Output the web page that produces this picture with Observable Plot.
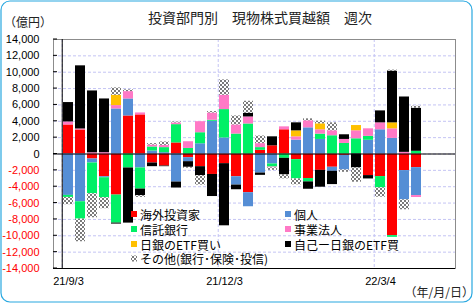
<!DOCTYPE html>
<html><head><meta charset="utf-8">
<script src="https://cdn.jsdelivr.net/npm/d3@7"></script>
<script src="https://cdn.jsdelivr.net/npm/@observablehq/plot@0.6"></script>
<style>
body{margin:0;background:#fff;}
#wrap{position:relative;width:473px;height:303px;}
#wrap svg{position:absolute;left:0;top:0;}
</style></head><body>
<svg width="0" height="0" style="position:absolute"><defs>
<pattern id="checker" width="4" height="4" patternUnits="userSpaceOnUse">
<rect width="4" height="4" fill="#ffffff"/>
<rect width="2" height="2" fill="#7a7a7a"/>
<rect x="2" y="2" width="2" height="2" fill="#7a7a7a"/>
</pattern></defs></svg>
<div id="wrap"></div>
<script>
// Weekly categories
const dates = ["21/9/3","21/9/10","21/9/17","21/9/24","21/10/1","21/10/8","21/10/15","21/10/22","21/10/29","21/11/5",
  "21/11/12","21/11/19","21/11/26","21/12/3","21/12/10","21/12/17","21/12/24","21/12/31","22/1/7","22/1/14",
  "22/1/21","22/1/28","22/2/4","22/2/11","22/2/18","22/2/25","22/3/4","22/3/11","22/3/18","22/3/25"];
const emptyDates = ["22/4/1","22/4/8"];
const labelDates = ["21/9/3","21/12/3","22/3/4"];
const yTicks = [-14000,-12000,-10000,-8000,-6000,-4000,-2000,0,2000,4000,6000,8000,10000,12000,14000];

const seriesNames = ["海外投資家","個人","信託銀行","事業法人","日銀のETF買い","自己ー日銀のETF買","その他(銀行･保険･投信)"];
const seriesColors = ["#ff0000","#558ed5","#00f066","#ff79c6","#ffc000","#000000","url(#checker)"];

// values (億円)
const foreign  = [3550,2940,-610,-2780,-5020,4650,4780,-1100,-1470,1350,-450,-1550,-2500,-1180,-2780,-4730,450,1000,2960,-690,-3000,-2000,-1620,-170,0,-2640,-2760,-9980,-2030,-1670];
const individual=[-5060,-5840,-490,-120,5510,2080,-1710,370,160,-3430,-490,1250,4000,1960,-1020,-1720,-2330,-1220,0,1700,3200,1780,-490,-1780,0,1680,2960,1910,-3570,-3410];
const trustBank= [-250,-2120,-3760,-2450,-3430,-1710,-2580,490,620,2240,680,1350,130,3470,2440,3670,330,-380,-530,-2350,-410,650,2230,1290,1860,480,-1380,-210,0,330];
const corporate= [370,120,150,160,410,900,240,240,280,210,820,1350,880,1750,1110,860,490,-100,360,400,860,530,610,490,980,920,850,1170,200,-240];
const bojEtf   = [0,0,0,0,1260,0,0,0,0,0,0,0,0,0,0,0,0,0,0,730,0,730,0,0,640,0,0,730,0,0];
const proprietary=[2370,7720,7560,6570,-120,-6740,-810,-450,-80,-730,-690,-1100,-2700,-7600,-570,450,-280,1100,-2030,980,-900,-2060,-1630,570,-1700,-410,1460,6330,6770,5270];
const others   = [-890,-2770,-2940,-1340,900,210,-210,170,410,120,-110,-1150,180,1880,1100,1470,930,-300,-480,-730,240,330,970,-290,-1750,0,-1140,120,-1220,240];

const seriesValues = [foreign, individual, trustBank, corporate, bojEtf, proprietary, others];
const rows = [];
dates.forEach((d, i) => {
  seriesNames.forEach((s, j) => rows.push({date: d, series: s, value: seriesValues[j][i]}));
});
const allDates = dates.concat(emptyDates);

const W = 473, H = 303, mL = 53, mR = 18, mT = 39, mB = 35;
const step = (W - mL - mR) / allDates.length;
const numFont = "'Liberation Sans', Arial, sans-serif";
const jpFont = "'Noto Sans CJK JP', sans-serif";
const fmt = d3.format(",");

const chart = Plot.plot({
  width: W, height: H,
  marginLeft: mL, marginRight: mR, marginTop: mT, marginBottom: mB,
  style: {background: "transparent", fontFamily: numFont, overflow: "visible"},
  x: {type: "band", domain: allDates, paddingInner: 0.15, paddingOuter: 0.075, axis: null},
  y: {domain: [-14000, 14000], axis: null},
  color: {domain: seriesNames, range: seriesColors},
  marks: [
    Plot.ruleY(yTicks, {y: d => d, stroke: "#c4c4f4", strokeDasharray: "3,2"}),
    Plot.ruleX(labelDates, {x: d => d, dx: -step / 2, stroke: "#c4c4f4", strokeDasharray: "3,2"}),
    Plot.frame({stroke: "#8c8c8c"}),
    Plot.barY(rows, {x: "date", y: "value", fill: "series"}),
    Plot.ruleY([0], {stroke: "#000"}),
    Plot.ruleY([-14000], {stroke: "#000"}),
    Plot.ruleX([allDates[0]], {x: d => d, dx: -step / 2, stroke: "#000"}),
    Plot.text(yTicks.filter(d => d >= 0), {y: d => d, frameAnchor: "left", dx: -14, textAnchor: "end", text: d => fmt(d), fill: "#000", fontSize: 11}),
    Plot.text(yTicks.filter(d => d < 0), {y: d => d, frameAnchor: "left", dx: -14, textAnchor: "end", text: d => "-" + fmt(-d), fill: "#ff0000", fontSize: 11}),
    Plot.text(labelDates, {x: d => d, frameAnchor: "bottom", dy: 16, text: d => d, fill: "#000", fontSize: 11})
  ]
});

const svg = d3.select(chart);
const ys = chart.scale("y");
// inward tick marks on the y axis
yTicks.forEach(t => {
  const y = ys.apply(t);
  svg.append("line").attr("x1", mL).attr("x2", mL + 4).attr("y1", y).attr("y2", y).attr("stroke", "#000");
});

// title & unit labels
svg.append("text").attr("x", 260).attr("y", 17).attr("text-anchor", "middle").attr("dominant-baseline", "central")
  .attr("font-family", jpFont).attr("font-size", 14).attr("fill", "#222").text("投資部門別　現物株式買越額　週次");
svg.append("text").attr("x", 4).attr("y", 21).attr("text-anchor", "start").attr("dominant-baseline", "central")
  .attr("font-family", jpFont).attr("font-size", 12).attr("fill", "#222").text("（億円）");
svg.append("text").attr("x", 474).attr("y", 291).attr("text-anchor", "end").attr("dominant-baseline", "central")
  .attr("font-family", jpFont).attr("font-size", 12).attr("fill", "#222").text("（年/月/日）");

// legend (two columns, row-major order as in the source)
const legendPos = [[131,214],[285,214],[131,229],[285,229],[131,244],[285,244],[131,258.5]];
seriesNames.forEach((s, i) => {
  const [lx, ly] = legendPos[i];
  svg.append("rect").attr("x", lx).attr("y", ly - 3).attr("width", 6).attr("height", 6).attr("fill", seriesColors[i]);
  svg.append("text").attr("x", lx + 9).attr("y", ly).attr("text-anchor", "start").attr("dominant-baseline", "central")
    .attr("font-family", jpFont).attr("font-size", 12).attr("fill", "#000").text(s);
});

// outer rounded border
svg.append("rect").attr("x", 1).attr("y", 1).attr("width", W - 2).attr("height", H - 2).attr("rx", 9)
  .attr("fill", "none").attr("stroke", "#29a8e0").attr("stroke-width", 1.2);

document.getElementById("wrap").appendChild(chart);
</script>
</body></html>
